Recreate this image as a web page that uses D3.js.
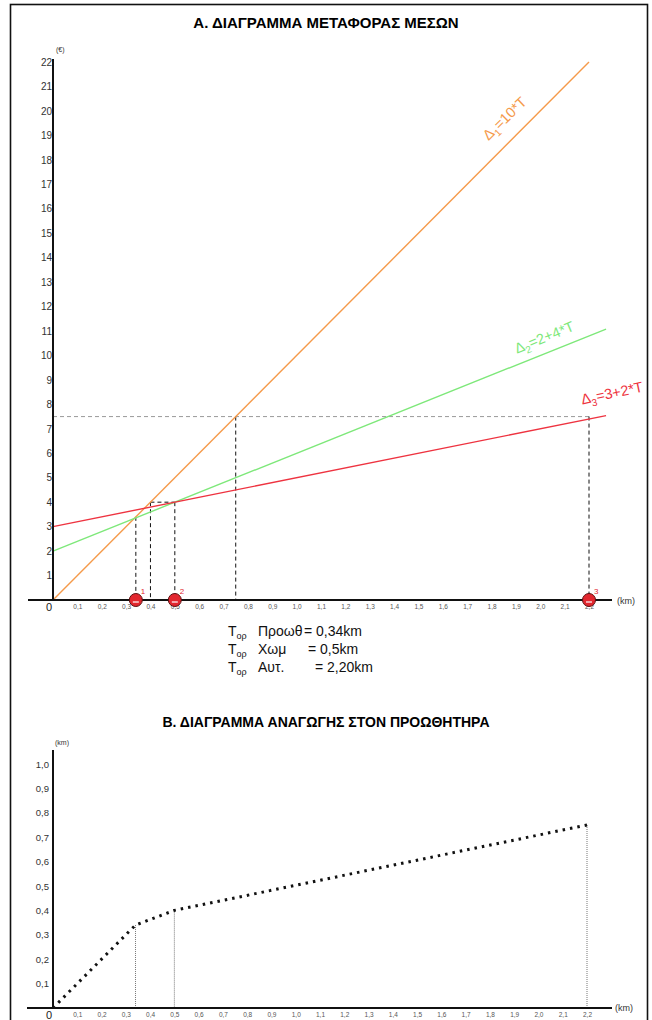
<!DOCTYPE html>
<html>
<head>
<meta charset="utf-8">
<script src="https://cdn.jsdelivr.net/npm/d3@7"></script>
<style>
  body { margin: 0; background: #fff; }
  svg text { font-family: "Liberation Sans", Arial, sans-serif; }
</style>
</head>
<body>
<div id="chart"></div>
<script>
// tick values
var xTicks = [0.1,0.2,0.3,0.4,0.5,0.6,0.7,0.8,0.9,1.0,1.1,1.2,1.3,1.4,1.5,1.6,1.7,1.8,1.9,2.0,2.1,2.2];
var yTicksA = [1,2,3,4,5,6,7,8,9,10,11,12,13,14,15,16,17,18,19,20,21,22];
var yTicksB = [0.1,0.2,0.3,0.4,0.5,0.6,0.7,0.8,0.9,1.0];

// cost lines (endpoints T, euro)
var lineNames = ["Δ1=10*T", "Δ2=2+4*T", "Δ3=3+2*T"];
var lineColors = ["#f59a4a", "#7ee87a", "#ee3340"];
var linePoints = [
  [[0, 0], [2.2, 22]],
  [[0, 2], [2.27, 11.08]],
  [[0, 3], [2.27, 7.54]]
];

// guide lines in chart A
var guidesBlack = [
  [[0.34, 3.4], [0.34, 0]],
  [[0.4, 4], [0.4, 0]],
  [[0.4, 4], [0.5, 4]],
  [[0.5, 4], [0.5, 0]],
  [[0.75, 7.5], [0.75, 0]],
  [[2.2, 7.5], [2.2, 0]]
];
var guideGrey = [[0, 7.5], [2.2, 7.5]];

// optimum distances
var optimum = [0.34, 0.5, 2.2];
var optLabels = ["1", "2", "3"];
var optText = [
  ["Προωθ", "= 0,34km"],
  ["Χωμ", "= 0,5km"],
  ["Αυτ.", "= 2,20km"]
];

// reduction to the bulldozer
var reduction = [[0, 0], [0.34, 0.34], [0.5, 0.4], [2.2, 0.75]];

var fmt = function(d) { return d3.format(".1f")(d).replace(".", ","); };

var svg = d3.select("#chart").append("svg")
  .attr("width", 652)
  .attr("height", 1020);

// frame
svg.append("rect")
  .attr("x", 10.5).attr("y", 4.5)
  .attr("width", 637).attr("height", 1030)
  .attr("fill", "none").attr("stroke", "#111").attr("stroke-width", 1.6);

// ---------- chart A ----------
var xA = d3.scaleLinear().domain([0, 2.2]).range([53, 589]);
var yA = d3.scaleLinear().domain([0, 22]).range([600, 62]);

svg.append("text")
  .attr("x", 326).attr("y", 28)
  .attr("text-anchor", "middle")
  .attr("font-size", 15).attr("font-weight", "bold")
  .text("Α. ΔΙΑΓΡΑΜΜΑ ΜΕΤΑΦΟΡΑΣ ΜΕΣΩΝ");

var lineA = d3.line().x(function(d) { return xA(d[0]); }).y(function(d) { return yA(d[1]); });

// guides
svg.append("path")
  .attr("d", lineA(guideGrey))
  .attr("fill", "none").attr("stroke", "#9a9a9a").attr("stroke-width", 1)
  .attr("stroke-dasharray", "4,3");

svg.selectAll(".guide")
  .data(guidesBlack)
.enter().append("path")
  .attr("class", "guide")
  .attr("d", lineA)
  .attr("fill", "none").attr("stroke", "#111").attr("stroke-width", 1)
  .attr("stroke-dasharray", "4,3");

// cost lines
svg.selectAll(".cost")
  .data(linePoints)
.enter().append("path")
  .attr("class", "cost")
  .attr("d", lineA)
  .attr("fill", "none")
  .attr("stroke", function(d, i) { return lineColors[i]; })
  .attr("stroke-width", 1.4);

// labels of cost lines
var labelPos = [[508, 122, -44], [546, 342, -22], [613, 398, -12]];
lineNames.forEach(function(n, i) {
  var t = svg.append("text")
    .attr("transform", "translate(" + labelPos[i][0] + "," + labelPos[i][1] + ") rotate(" + labelPos[i][2] + ")")
    .attr("text-anchor", "middle")
    .attr("font-size", 14.5)
    .attr("fill", lineColors[i]);
  t.append("tspan").text("Δ");
  t.append("tspan").attr("font-size", 10).attr("dy", 4).text(n.charAt(1));
  t.append("tspan").attr("dy", -4).text(n.slice(2));
});

// axes A
var gxA = svg.append("g")
  .attr("transform", "translate(0,600)")
  .call(d3.axisBottom(xA).tickValues(xTicks).tickSize(0).tickPadding(4).tickFormat(fmt));
gxA.select(".domain").remove();
gxA.selectAll("text").attr("font-size", 6.5).attr("fill", "#555").attr("font-family", null);

var gyA = svg.append("g")
  .attr("transform", "translate(53,0)")
  .call(d3.axisLeft(yA).tickValues(yTicksA).tickSize(0).tickPadding(1));
gyA.select(".domain").remove();
gyA.selectAll("text").attr("font-size", 10).attr("fill", "#333").attr("font-family", null);

svg.append("line").attr("x1", 28).attr("x2", 612).attr("y1", 600).attr("y2", 600)
  .attr("stroke", "#111").attr("stroke-width", 2);
svg.append("line").attr("x1", 53).attr("x2", 53).attr("y1", 59).attr("y2", 600)
  .attr("stroke", "#111").attr("stroke-width", 2);
svg.append("text").attr("x", 46).attr("y", 611).attr("font-size", 11).attr("fill", "#222").text("0");
svg.append("text").attr("x", 56).attr("y", 52).attr("font-size", 7).attr("fill", "#333").text("(€)");
svg.append("text").attr("x", 617).attr("y", 604).attr("font-size", 9).attr("fill", "#333").text("(km)");

// optimum markers
svg.selectAll(".opt")
  .data(optimum)
.enter().append("circle")
  .attr("class", "opt")
  .attr("cx", function(d) { return xA(d); })
  .attr("cy", 600)
  .attr("r", 6.5)
  .attr("fill", "#e2272f").attr("stroke", "#5a1010").attr("stroke-width", 1);
svg.selectAll(".optmark")
  .data(optimum)
.enter().append("line")
  .attr("class", "optmark")
  .attr("x1", function(d) { return xA(d) - 3; })
  .attr("x2", function(d) { return xA(d) + 3; })
  .attr("y1", 602).attr("y2", 602)
  .attr("stroke", "#fff").attr("stroke-width", 1.2);
svg.selectAll(".optlab")
  .data(optimum)
.enter().append("text")
  .attr("class", "optlab")
  .attr("x", function(d) { return xA(d) + 5; })
  .attr("y", 594)
  .attr("font-size", 8).attr("fill", "#e2272f")
  .text(function(d, i) { return optLabels[i]; });

// optimum text block
optText.forEach(function(r, i) {
  var y = 636 + i * 18;
  var t = svg.append("text").attr("x", 228).attr("y", y).attr("font-size", 14).attr("fill", "#111");
  t.append("tspan").text("Τ");
  t.append("tspan").attr("font-size", 9).attr("dy", 3).text("ορ");
  svg.append("text").attr("x", 258).attr("y", y).attr("font-size", 14).attr("fill", "#111").text(r[0]);
  svg.append("text").attr("x", [304, 308, 315][i]).attr("y", y).attr("font-size", 14).attr("fill", "#111").text(r[1]);
});

// ---------- chart B ----------
var xB = d3.scaleLinear().domain([0, 2.2]).range([53, 587]);
var yB = d3.scaleLinear().domain([0, 1]).range([1008, 764]);

svg.append("text")
  .attr("x", 326).attr("y", 727)
  .attr("text-anchor", "middle")
  .attr("font-size", 14).attr("font-weight", "bold")
  .text("Β. ΔΙΑΓΡΑΜΜΑ ΑΝΑΓΩΓΗΣ ΣΤΟΝ ΠΡΟΩΘΗΤΗΡΑ");

var lineB = d3.line().x(function(d) { return xB(d[0]); }).y(function(d) { return yB(d[1]); });

svg.selectAll(".drop")
  .data(reduction.slice(1))
.enter().append("line")
  .attr("class", "drop")
  .attr("x1", function(d) { return xB(d[0]); })
  .attr("x2", function(d) { return xB(d[0]); })
  .attr("y1", function(d) { return yB(d[1]); })
  .attr("y2", 1008)
  .attr("stroke", "#777").attr("stroke-width", 1)
  .attr("stroke-dasharray", "1,1");

svg.append("path")
  .attr("d", lineB(reduction))
  .attr("fill", "none").attr("stroke", "#111").attr("stroke-width", 3)
  .attr("stroke-dasharray", "2.5,5");

var gxB = svg.append("g")
  .attr("transform", "translate(0,1008)")
  .call(d3.axisBottom(xB).tickValues(xTicks).tickSize(0).tickPadding(4).tickFormat(fmt));
gxB.select(".domain").remove();
gxB.selectAll("text").attr("font-size", 6.5).attr("fill", "#555").attr("font-family", null);

var gyB = svg.append("g")
  .attr("transform", "translate(53,0)")
  .call(d3.axisLeft(yB).tickValues(yTicksB).tickSize(0).tickPadding(4).tickFormat(fmt));
gyB.select(".domain").remove();
gyB.selectAll("text").attr("font-size", 9.5).attr("fill", "#333").attr("font-family", null);

svg.append("line").attr("x1", 27).attr("x2", 612).attr("y1", 1008).attr("y2", 1008)
  .attr("stroke", "#111").attr("stroke-width", 2);
svg.append("line").attr("x1", 53).attr("x2", 53).attr("y1", 750).attr("y2", 1008)
  .attr("stroke", "#111").attr("stroke-width", 2);
svg.append("text").attr("x", 46).attr("y", 1019).attr("font-size", 11).attr("fill", "#222").text("0");
svg.append("text").attr("x", 55).attr("y", 745).attr("font-size", 7).attr("fill", "#333").text("(km)");
svg.append("text").attr("x", 615).attr("y", 1011).attr("font-size", 9).attr("fill", "#333").text("(km)");
</script>
</body>
</html>
